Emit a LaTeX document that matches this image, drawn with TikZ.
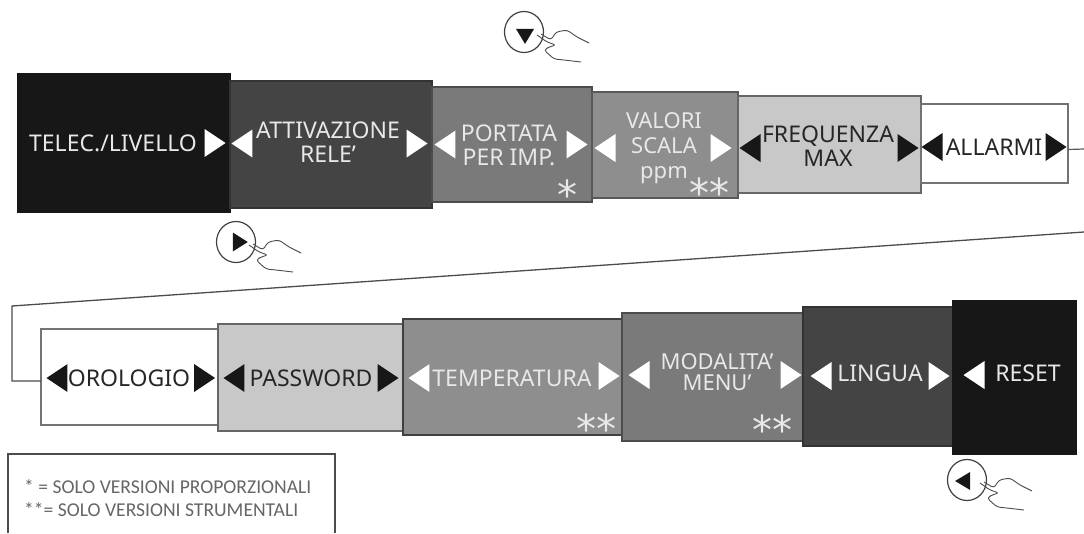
\documentclass[tikz,border=0pt]{standalone}
\usepackage{fontspec}
\setmainfont{Noto Sans}
\newfontfamily\starfont{DejaVu Sans}
\newfontfamily\legendfont{Carlito}
\usetikzlibrary{calc,shapes.geometric,positioning}
\definecolor{blk}{HTML}{171717}
\definecolor{dgr}{HTML}{444444}
\definecolor{mgr}{HTML}{7A7A7A}
\definecolor{sgr}{HTML}{8E8E8E}
\definecolor{lgr}{HTML}{C8C8C8}
\definecolor{wtx}{HTML}{E8E8E8}

\begin{document}
\begin{tikzpicture}[x=1pt,y=-1pt]
          \tikzstyle{menubox} = [draw=#1, line width=1.8pt, inner sep=0pt, outer sep=0pt]
          \tikzstyle{wlabel} = [text=wtx, inner sep=0pt, align=center, font=\fontsize{23}{24}\selectfont]
          \tikzstyle{blabel} = [text=black!85, inner sep=0pt, align=center, font=\fontsize{23}{24}\selectfont]
          \tikzstyle{tri} = [isosceles triangle, isosceles triangle stretches, inner sep=0pt, outer sep=0pt, minimum height=21pt, minimum width=28pt]
          \tikzstyle{wr} = [tri, fill=white, xshift=-2pt]
          \tikzstyle{wl} = [tri, fill=white, shape border rotate=180, xshift=2pt]
          \tikzstyle{br} = [tri, fill=blk, xshift=-2pt]
          \tikzstyle{bl} = [tri, fill=blk, shape border rotate=180, xshift=2pt]
          \tikzstyle{stars} = [text=wtx, inner sep=0pt, anchor=base, font=\starfont\fontsize{40}{40}\selectfont]
          \tikzstyle{btn} = [draw=black!75, line width=1.2pt, ellipse, inner sep=0pt, minimum width=39pt, minimum height=41pt]
          \tikzstyle{hand} = [draw=black!70, line width=0.9pt, rounded corners=3pt]
          \useasboundingbox (0,0) rectangle (1084,533);

          % top row
          \node[menubox=blk, fill=blk, minimum width=212pt, minimum height=138pt] (telec) at (124,143) {};
          \node[menubox=black!80, fill=dgr, minimum width=202pt, minimum height=127pt] (attiv) at (331,144.5) {};
          \node[menubox=black!70, fill=mgr, minimum width=160pt, minimum height=115pt] (portata) at (512,144.5) {};
          \node[menubox=black!65, fill=sgr, minimum width=146pt, minimum height=106pt] (valori) at (665,145) {};
          \node[menubox=black!60, fill=lgr, minimum width=183pt, minimum height=97pt] (freq) at (829.5,144.5) {};
          \node[menubox=black!55, fill=white, minimum width=147pt, minimum height=79pt] (allarmi) at (994.5,143.5) {};

          \node[wlabel] (telect) at (113,143) {TELEC./LIVELLO};
          \node[wr] (telecr) at (214,143) {};
          \node[wl] (attivl) at (243,143.5) {};
          \node[wlabel] (attivt) at (328,142) {ATTIVAZIONE\\RELE'};
          \node[wr] (attivr) at (416,143.5) {};
          \node[wl] (portatal) at (446,144.5) {};
          \node[wlabel] (portatat) at (509,145) {PORTATA\\PER IMP.};
          \node[wr] (portatar) at (576,144.5) {};
          \node[stars] (portatas) at (567,209) {*};
          \node[wl] (valoril) at (606,148) {};
          \node[wlabel, font=\fontsize{22}{25}\selectfont] (valorit) at (664,148) {VALORI\\SCALA\\ppm};
          \node[wr] (valorir) at (720,148) {};
          \node[stars] (valoris) at (709,207) {**};
          \node[bl] (freql) at (751,148) {};
          \node[blabel] (freqt) at (828,146) {FREQUENZA\\MAX};
          \node[br] (freqr) at (907,148) {};
          \node[bl] (allarmil) at (933,147) {};
          \node[blabel] (allarmit) at (994,147) {ALLARMI};
          \node[br] (allarmir) at (1055,147) {};

          % bottom row
          \node[menubox=black!55, fill=white, minimum width=177pt, minimum height=96pt] (orologio) at (129.5,377) {};
          \node[menubox=black!60, fill=lgr, minimum width=185pt, minimum height=107pt] (password) at (310.5,377.5) {};
          \node[menubox=black!75, fill=sgr, minimum width=219pt, minimum height=116pt] (temperatura) at (512.5,377) {};
          \node[menubox=black!70, fill=mgr, minimum width=181pt, minimum height=128pt] (modalita) at (712.5,377) {};
          \node[menubox=black!80, fill=dgr, minimum width=150pt, minimum height=139pt] (lingua) at (878,376.5) {};
          \node[menubox=blk, fill=blk, minimum width=123pt, minimum height=153pt] (reset) at (1014.5,377.5) {};

          \node[bl] (orologiol) at (58,378) {};
          \node[blabel] (orologiot) at (129,378) {OROLOGIO};
          \node[br] (orologior) at (203.5,378) {};
          \node[bl] (passwordl) at (235,378) {};
          \node[blabel] (passwordt) at (311,378) {PASSWORD};
          \node[br] (passwordr) at (387,378) {};
          \node[wl] (temperatural) at (420,378) {};
          \node[wlabel] (temperaturat) at (512,378) {TEMPERATURA};
          \node[wr] (temperaturar) at (608,376) {};
          \node[stars] (temperaturas) at (596,443) {**};
          \node[wl] (modalital) at (640,375) {};
          \node[wlabel, font=\fontsize{22}{24}\selectfont] (modalitat) at (717,372) {MODALITA'\\[-3pt]MENU'};
          \node[wr] (modalitar) at (790,375) {};
          \node[stars] (modalitas) at (772,444) {**};
          \node[wl] (lingual) at (822,376) {};
          \node[wlabel] (linguat) at (880,373) {LINGUA};
          \node[wr] (linguar) at (938,376) {};
          \node[wl] (resetl) at (975,375) {};
          \node[wlabel] (resett) at (1028,373) {RESET};

          % wrap line between the rows
          \coordinate (wrapout) at (1084,149);
          \coordinate (wrapa) at (1084,232);
          \coordinate (wrapb) at (12,306);
          \coordinate (wrapc) at (12,381);
          \draw[draw=black!65, line width=1.2pt] ([yshift=-6pt]allarmi.east) -- (wrapout);
          \draw[draw=black!70, line width=1.3pt] (wrapa) -- (wrapb) -- (wrapc) -- ([yshift=-4pt]orologio.west);

          % buttons
          \node[btn] (btnup) at (524,32) {};
          \node[tri, fill=blk, shape border rotate=270, minimum height=15pt, minimum width=18pt] (btnupt) at (525,34) {};
          \draw[hand] ($(btnup)+(17,2)$) -- ++(10,6) -- ++(5,-8) -- ++(11,-2) -- ++(10,7) -- ++(12,6);
          \draw[hand] ($(btnup)+(13,3)$) -- ++(10,7) -- ++(9,3) -- ++(-7,2) -- ++(-5,3) -- ++(10,9) -- ++(10,1) -- ++(17,2);

          \node[btn] (btnright) at (236,242) {};
          \node[tri, fill=blk, minimum height=15pt, minimum width=19pt] (btnrightt) at (238,242) {};
          \draw[hand] ($(btnright)+(17,2)$) -- ++(10,6) -- ++(5,-8) -- ++(11,-2) -- ++(10,7) -- ++(12,6);
          \draw[hand] ($(btnright)+(13,3)$) -- ++(10,7) -- ++(9,3) -- ++(-7,2) -- ++(-5,3) -- ++(10,9) -- ++(10,1) -- ++(17,2);

          \node[btn] (btnleft) at (967,480) {};
          \node[tri, fill=blk, shape border rotate=180, minimum height=15pt, minimum width=18pt] (btnleftt) at (965,481) {};
          \draw[hand] ($(btnleft)+(17,2)$) -- ++(10,6) -- ++(5,-8) -- ++(11,-2) -- ++(10,7) -- ++(12,6);
          \draw[hand] ($(btnleft)+(13,3)$) -- ++(10,7) -- ++(9,3) -- ++(-7,2) -- ++(-5,3) -- ++(10,9) -- ++(10,1) -- ++(17,2);

          % legend, open at the bottom edge
          \coordinate (lega) at (8,533);
          \coordinate (legb) at (8,454);
          \coordinate (legc) at (335,454);
          \coordinate (legd) at (335,533);
          \draw[draw=black!70, line width=1.4pt] (lega) -- (legb) -- (legc) -- (legd);
          \node[text=black!60, inner sep=0pt, anchor=west, font=\legendfont\fontsize{19.6}{19.6}\selectfont] (legone) at (24,487) {* = SOLO VERSIONI PROPORZIONALI};
          \node[text=black!60, inner sep=0pt, anchor=west, font=\legendfont\fontsize{19.6}{19.6}\selectfont] (legtwo) at (24,510) {**= SOLO VERSIONI STRUMENTALI};
        \end{tikzpicture}
\end{document}
